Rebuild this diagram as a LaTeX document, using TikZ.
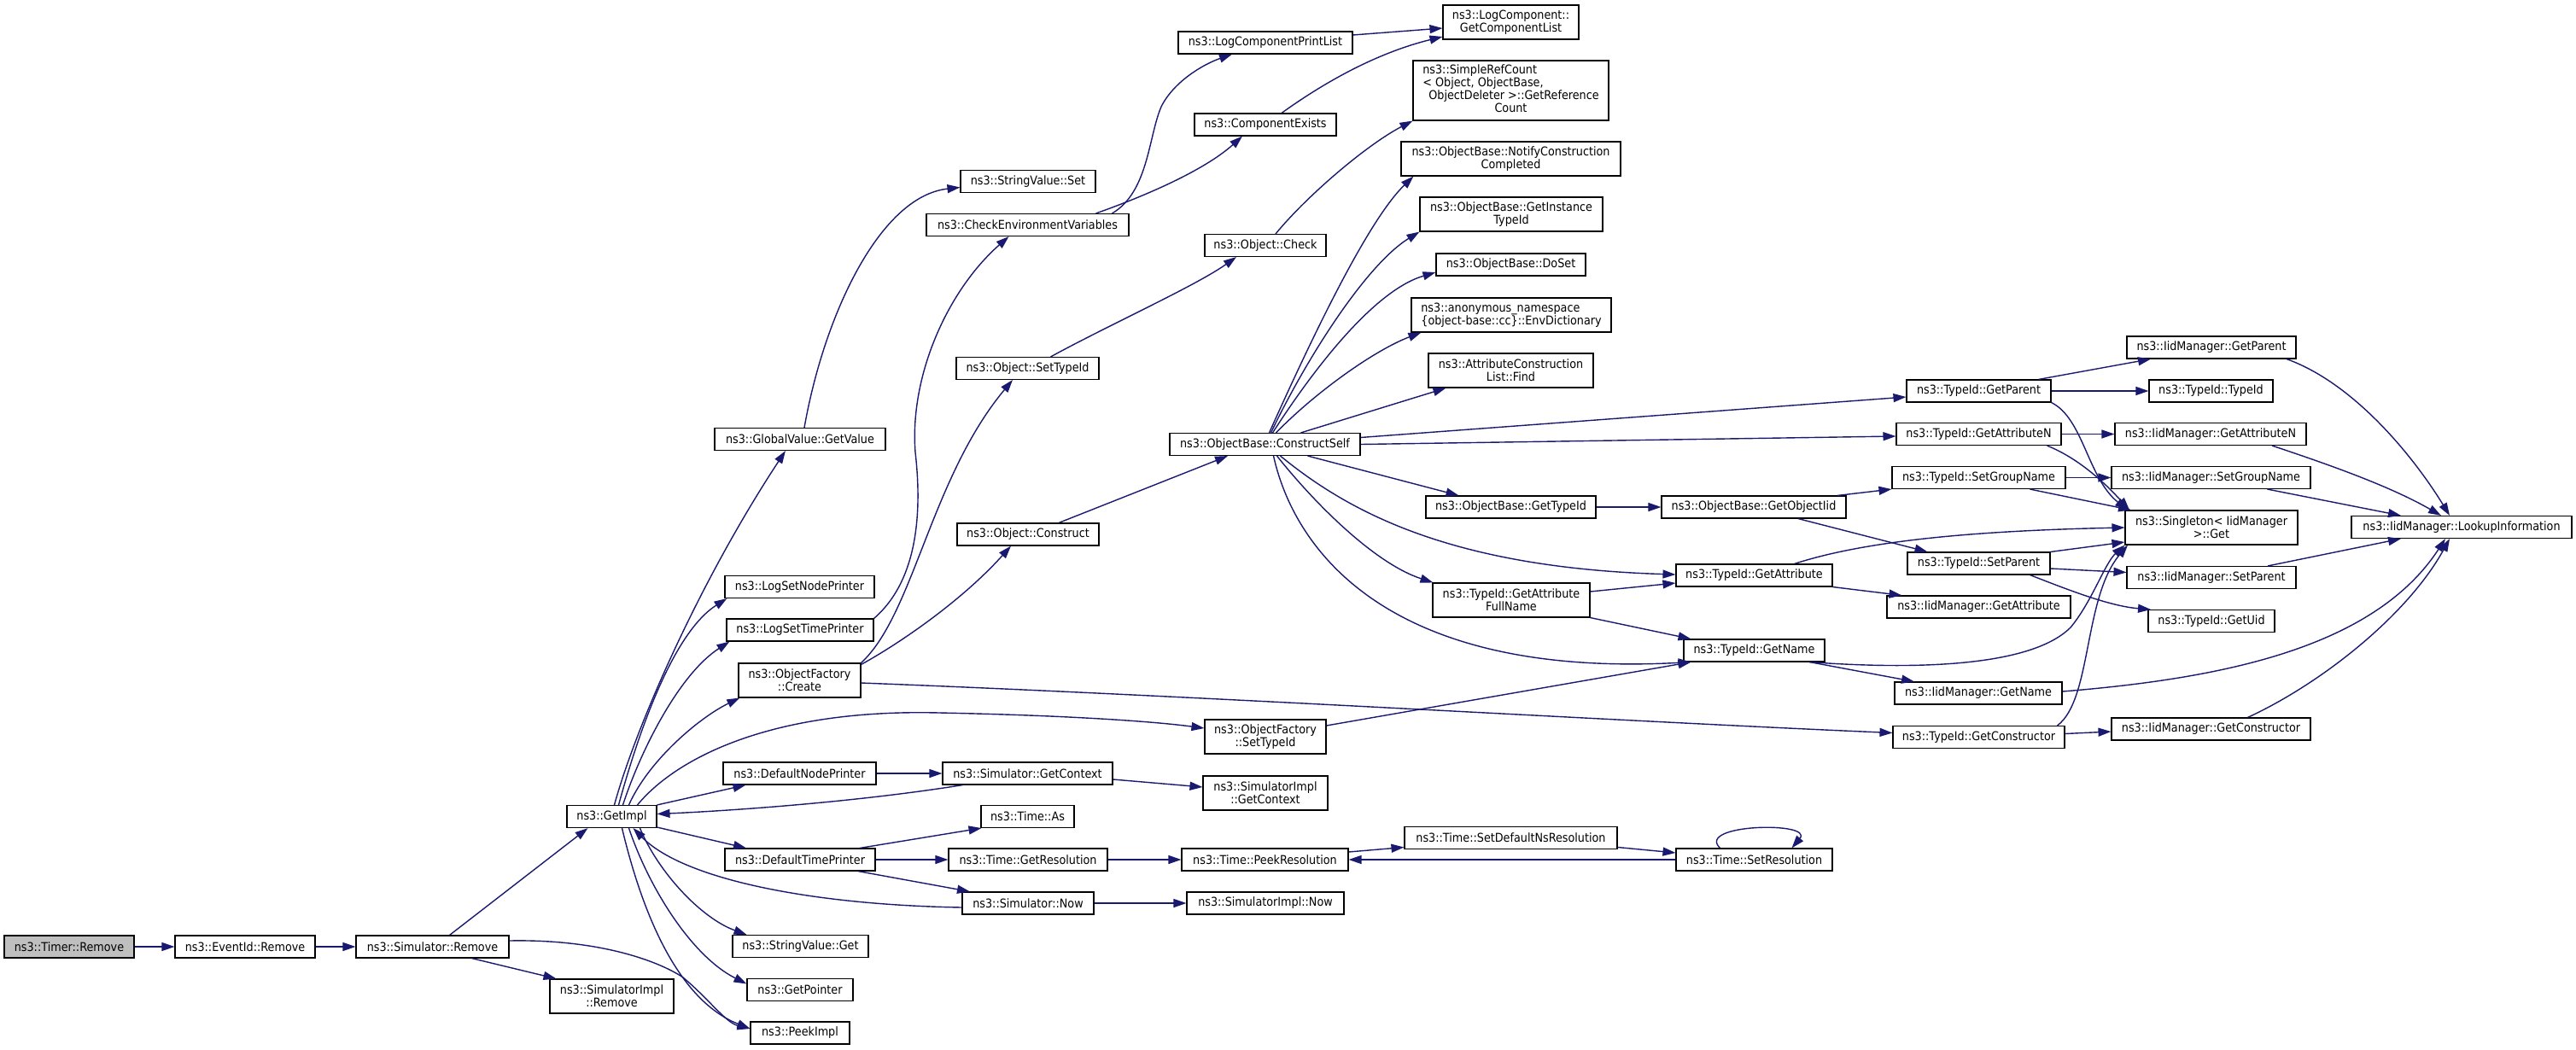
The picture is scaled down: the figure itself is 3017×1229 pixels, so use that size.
\documentclass[tikz,border=0pt]{standalone}
\usepackage{fontspec}
\setmainfont{DejaVu Sans}[FakeStretch=0.9]
\usetikzlibrary{arrows.meta}
\definecolor{dxblue}{HTML}{191970}
\definecolor{dxgrey}{HTML}{BFBFBF}
\newcommand\dxfont{\fontsize{14.2pt}{14.8pt}\selectfont}
\tikzset{
  box/.style={draw=black, line width=1.1pt, fill=white, inner sep=0pt, align=center, font=\dxfont, minimum height=26pt},
  ca/.style={draw=dxblue, line width=1.4pt, -{Triangle[length=15pt,width=10pt]}, fill=none},
}
\begin{document}
\begin{tikzpicture}[x=1pt,y=-1pt]
\useasboundingbox (0,0) rectangle (3017,1229);
% ---- nodes ----
\node[box, fill=dxgrey, minimum width=152pt] (timer) at (81,1109) {ns3::Timer::Remove};
\node[box, minimum width=164pt] (evrem) at (287,1109) {ns3::EventId::Remove};
\node[box, minimum width=179pt] (simrem) at (506.5,1109) {ns3::Simulator::Remove};
\node[box, minimum width=145pt, minimum height=40pt] (simimplrem) at (716.5,1167) {ns3::SimulatorImpl\\::Remove};
\node[box, minimum width=105pt] (getimpl) at (716.5,956.5) {ns3::GetImpl};
\node[box, minimum width=116pt] (peekimpl) at (937,1210) {ns3::PeekImpl};
\node[box, minimum width=124pt] (getpointer) at (937,1159.5) {ns3::GetPointer};
\node[box, minimum width=159pt] (svget) at (937.5,1108.5) {ns3::StringValue::Get};
\node[box, minimum width=176pt] (deftime) at (937,1007) {ns3::DefaultTimePrinter};
\node[box, minimum width=179pt] (defnode) at (936.5,906) {ns3::DefaultNodePrinter};
\node[box, minimum width=143pt, minimum height=40pt] (ofcreate) at (936.5,797) {ns3::ObjectFactory\\::Create};
\node[box, minimum width=172pt] (logtime) at (937,738) {ns3::LogSetTimePrinter};
\node[box, minimum width=175pt] (lognode) at (936.5,687.5) {ns3::LogSetNodePrinter};
\node[box, minimum width=200pt] (gvget) at (937,514.5) {ns3::GlobalValue::GetValue};
\node[box, minimum width=158pt] (svset) at (1204,212.5) {ns3::StringValue::Set};
\node[box, minimum width=237pt] (checkenv) at (1203.5,263.5) {ns3::CheckEnvironmentVariables};
\node[box, minimum width=167pt] (osettype) at (1203.5,431.5) {ns3::Object::SetTypeId};
\node[box, minimum width=166pt] (oconstruct) at (1204,626) {ns3::Object::Construct};
\node[box, minimum width=142pt, minimum height=40pt] (ofsettype) at (1482,863) {ns3::ObjectFactory\\::SetTypeId};
\node[box, minimum width=199pt] (simgetctx) at (1203.5,906) {ns3::Simulator::GetContext};
\node[box, minimum width=109pt] (timeas) at (1203.5,956.5) {ns3::Time::As};
\node[box, minimum width=186pt] (getres) at (1204,1007) {ns3::Time::GetResolution};
\node[box, minimum width=154pt] (simnow) at (1204,1058) {ns3::Simulator::Now};
\node[box, minimum width=146pt, minimum height=40pt] (simimplctx) at (1482,929) {ns3::SimulatorImpl\\::GetContext};
\node[box, minimum width=195pt] (peekres) at (1481.5,1007) {ns3::Time::PeekResolution};
\node[box, minimum width=184pt] (simimplnow) at (1482,1058) {ns3::SimulatorImpl::Now};
\node[box, minimum width=249pt] (setdefns) at (1769.5,981.5) {ns3::Time::SetDefaultNsResolution};
\node[box, minimum width=183pt] (setres) at (2054.5,1007) {ns3::Time::SetResolution};
\node[box, minimum width=204pt] (logprint) at (1482,50) {ns3::LogComponentPrintList};
\node[box, minimum width=166pt] (compexists) at (1482,146) {ns3::ComponentExists};
\node[box, minimum width=142pt] (ocheck) at (1482,287.5) {ns3::Object::Check};
\node[box, minimum width=223pt] (constructself) at (1481.5,520.5) {ns3::ObjectBase::ConstructSelf};
\node[box, minimum width=159pt, minimum height=40pt] (getcomplist) at (1769.5,26) {ns3::LogComponent::\\GetComponentList};
\node[box, minimum width=229pt, minimum height=70pt] (simpleref) at (1769.5,106) {\begin{tabular}{@{}l@{}}ns3::SimpleRefCount\\< Object, ObjectBase,\\\hspace{7pt}ObjectDeleter >::GetReference\\\multicolumn{1}{@{}c@{}}{Count}\end{tabular}};
\node[box, minimum width=257pt, minimum height=40pt] (notify) at (1769.5,186) {ns3::ObjectBase::NotifyConstruction\\Completed};
\node[box, minimum width=214pt, minimum height=40pt] (getinst) at (1770,251) {ns3::ObjectBase::GetInstance\\TypeId};
\node[box, minimum width=175pt] (doset) at (1769.5,310) {ns3::ObjectBase::DoSet};
\node[box, align=left, minimum width=234pt, minimum height=40pt] (envdict) at (1770,369) {ns3::anonymous\_namespace\\\{object-base::cc\}::EnvDictionary};
\node[box, minimum width=193pt, minimum height=40pt] (acfind) at (1769.5,434) {ns3::AttributeConstruction\\List::Find};
\node[box, minimum width=199pt] (obgettype) at (1769.5,594) {ns3::ObjectBase::GetTypeId};
\node[box, minimum width=184pt, minimum height=40pt] (getattrfull) at (1770,703) {ns3::TypeId::GetAttribute\\FullName};
\node[box, minimum width=216pt] (getobjiid) at (2054,594) {ns3::ObjectBase::GetObjectIid};
\node[box, minimum width=183pt] (tgetattr) at (2054.5,674) {ns3::TypeId::GetAttribute};
\node[box, minimum width=165pt] (tgetname) at (2054.5,762) {ns3::TypeId::GetName};
\node[box, minimum width=169pt] (tgetparent) at (2317.5,458) {ns3::TypeId::GetParent};
\node[box, minimum width=193pt] (tgetattrn) at (2317.5,508.5) {ns3::TypeId::GetAttributeN};
\node[box, minimum width=203pt] (tsetgroup) at (2317.5,559.5) {ns3::TypeId::SetGroupName};
\node[box, minimum width=167pt] (tsetparent) at (2317.5,660) {ns3::TypeId::SetParent};
\node[box, minimum width=215pt] (igetattr) at (2317.5,711) {ns3::IidManager::GetAttribute};
\node[box, minimum width=196pt] (igetname) at (2317,812) {ns3::IidManager::GetName};
\node[box, minimum width=201pt] (tgetctor) at (2317.5,863.5) {ns3::TypeId::GetConstructor};
\node[box, minimum width=198pt] (igetparent) at (2590,407) {ns3::IidManager::GetParent};
\node[box, minimum width=145pt] (ttypeid) at (2589.5,458) {ns3::TypeId::TypeId};
\node[box, minimum width=224pt] (igetattrn) at (2589,508.5) {ns3::IidManager::GetAttributeN};
\node[box, minimum width=233pt] (isetgroup) at (2589.5,559.5) {ns3::IidManager::SetGroupName};
\node[box, minimum width=202pt, minimum height=40pt] (singleton) at (2590,618) {ns3::Singleton< IidManager\\ >::Get};
\node[box, minimum width=198pt] (isetparent) at (2590,676.5) {ns3::IidManager::SetParent};
\node[box, minimum width=148pt] (tgetuid) at (2590,727.5) {ns3::TypeId::GetUid};
\node[box, minimum width=233pt] (igetctor) at (2589.5,854) {ns3::IidManager::GetConstructor};
\node[box, minimum width=258pt] (lookup) at (2883,617.5) {ns3::IidManager::LookupInformation};
% ---- edges ----
\draw[ca] (timer) -- (evrem);
\draw[ca] (evrem) -- (simrem);
\draw[ca] ([xshift=20pt]simrem.north) -- ([xshift=-28pt]getimpl.south);
\draw[ca] ([xshift=46pt]simrem.south) -- ([xshift=-65pt]simimplrem.north);
\draw[ca] ([yshift=7pt]simrem.east) .. controls (700,1100) and (770,1125) .. (800,1145) .. controls (830,1170) and (850,1198) .. ([yshift=5pt]peekimpl.west);
% GetImpl fan
\draw[ca] ([xshift=3pt]getimpl.north) .. controls (745,850) and (820,680) .. ([xshift=-17pt]gvget.south);
\draw[ca] ([xshift=8pt]getimpl.north) .. controls (750,850) and (790,740) .. ([xshift=3pt]lognode.south west);
\draw[ca] ([xshift=13pt]getimpl.north) .. controls (750,880) and (795,790) .. ([xshift=4pt]logtime.south west);
\draw[ca] ([xshift=20pt]getimpl.north) .. controls (760,890) and (820,840) .. ([xshift=2pt]ofcreate.south west);
\draw[ca] ([xshift=30pt]getimpl.north) .. controls (790,890) and (900,830) .. (1100,835) .. controls (1250,838) and (1350,845) .. ([yshift=10pt]ofsettype.west);
\draw[ca] (getimpl.north east) -- ([xshift=-63pt]defnode.south);
\draw[ca] ([xshift=-76pt]simgetctx.south) .. controls (1000,940) and (850,950) .. ([yshift=3pt]getimpl.east);
\draw[ca] ([yshift=1pt]getimpl.south east) -- ([xshift=-63pt]deftime.north);
\draw[ca] ([xshift=33pt]getimpl.south) .. controls (770,1020) and (820,1075) .. ([xshift=-63pt]svget.north);
\draw[ca] ([xshift=20pt]getimpl.south) .. controls (760,1040) and (810,1120) .. ([yshift=7pt]getpointer.west);
\draw[ca] ([xshift=12pt]getimpl.south) .. controls (750,1060) and (790,1170) .. ([yshift=5pt]peekimpl.west);
\draw[ca] ([yshift=-5pt]simnow.west) .. controls (950,1060) and (800,1030) .. ([xshift=25pt]getimpl.south);
% printers / time
\draw[ca] (defnode) -- (simgetctx);
\draw[ca] ([yshift=-7pt]simgetctx.east) -- ([yshift=7pt]simimplctx.west);
\draw[ca] ([xshift=70pt]deftime.north) -- ([xshift=-54pt]timeas.south);
\draw[ca] (deftime) -- (getres);
\draw[ca] ([xshift=68pt]deftime.south) -- ([xshift=-68pt]simnow.north);
\draw[ca] (getres) -- (peekres);
\draw[ca] (simnow) -- (simimplnow);
\draw[ca] ([yshift=9pt]peekres.east) -- ([yshift=-11pt]setdefns.west);
\draw[ca] ([yshift=-11pt]setdefns.east) -- ([yshift=8pt]setres.west);
\draw[ca] (setres) -- (peekres);
\draw[ca] ([xshift=-40pt]setres.north) .. controls (1985,965) and (2125,962) .. ([xshift=44pt]setres.north);
% global value / log
\draw[ca] ([xshift=5pt]gvget.north) .. controls (965,370) and (1030,230) .. ([yshift=-7pt]svset.west);
\draw[ca] (logtime.north east) .. controls (1075,680) and (1080,600) .. (1072,530) .. controls (1065,440) and (1110,340) .. ([xshift=-22pt]checkenv.south);
\draw[ca] ([xshift=99pt]checkenv.north) .. controls (1345,225) and (1345,160) .. (1360,125) .. controls (1375,95) and (1410,75) .. ([xshift=-39pt]logprint.south);
\draw[ca] ([xshift=80pt]checkenv.north) .. controls (1340,230) and (1410,200) .. ([xshift=-27pt]compexists.south);
\draw[ca] ([yshift=9pt]logprint.east) -- ([yshift=-7pt]getcomplist.west);
\draw[ca] ([xshift=19pt]compexists.north) .. controls (1560,90) and (1620,60) .. ([yshift=-17pt]getcomplist.west);
% object factory
\draw[ca] (ofcreate.north east) .. controls (1070,720) and (1090,560) .. ([xshift=-17.5pt]osettype.south);
\draw[ca] ([yshift=-2pt]ofcreate.north east) .. controls (1060,750) and (1130,700) .. ([xshift=-20pt]oconstruct.south);
\draw[ca] ([yshift=-3pt]ofcreate.east) .. controls (1400,815) and (1900,845) .. ([yshift=5pt]tgetctor.west);
\draw[ca] ([xshift=27pt]osettype.north) .. controls (1300,380) and (1400,335) .. ([xshift=-34pt]ocheck.south);
\draw[ca] ([xshift=12pt]ocheck.north) .. controls (1530,230) and (1600,170) .. (simpleref.south west);
\draw[ca] ([xshift=36pt]oconstruct.north) -- ([xshift=-43.5pt]constructself.south);
% ConstructSelf fan
\draw[ca] ([xshift=5pt]constructself.north) .. controls (1530,410) and (1600,260) .. ([xshift=15pt]notify.south west);
\draw[ca] ([xshift=7pt]constructself.north) .. controls (1530,420) and (1600,310) .. (getinst.south west);
\draw[ca] ([xshift=9pt]constructself.north) .. controls (1540,430) and (1610,340) .. ([yshift=-9pt]doset.west);
\draw[ca] ([xshift=13pt]constructself.north) .. controls (1540,460) and (1610,410) .. ([xshift=12pt]envdict.south west);
\draw[ca] ([xshift=42pt]constructself.north) -- ([xshift=21pt]acfind.south west);
\draw[ca] ([yshift=8pt]constructself.east) -- ([yshift=-7pt]tgetparent.west);
\draw[ca] (constructself.east) -- ([yshift=-2.5pt]tgetattrn.west);
\draw[ca] ([xshift=50pt]constructself.south) -- ([xshift=-61pt]obgettype.north);
\draw[ca] ([xshift=18pt]constructself.south) .. controls (1580,600) and (1700,665) .. ([yshift=1pt]tgetattr.west);
\draw[ca] ([xshift=14pt]constructself.south) .. controls (1540,590) and (1610,660) .. ([xshift=1pt]getattrfull.north west);
\draw[ca] ([xshift=10pt]constructself.south) .. controls (1515,640) and (1620,795) .. ([xshift=-74pt]tgetname.south);
% TypeId column
\draw[ca] ([yshift=10pt]getattrfull.east) -- ([yshift=-9pt]tgetattr.west);
\draw[ca] (getattrfull.south east) -- ([xshift=-74pt]tgetname.north);
\draw[ca] ([yshift=13pt]ofsettype.east) -- ([xshift=-74pt]tgetname.south);
\draw[ca] (obgettype) -- (getobjiid);
\draw[ca] ([xshift=98pt]getobjiid.north) -- (tsetgroup.south west);
\draw[ca] ([xshift=52pt]getobjiid.south) -- ([xshift=-60pt]tsetparent.north);
\draw[ca] (tgetattr.south east) -- ([xshift=-90pt]igetattr.north);
\draw[ca] ([xshift=47pt]tgetattr.north) .. controls (2180,635) and (2300,622) .. (singleton.west);
\draw[ca] ([xshift=70pt]tgetparent.north) -- ([xshift=-71pt]igetparent.south);
\draw[ca] (tgetparent) -- (ttypeid);
\draw[ca] (tgetparent.south east) .. controls (2440,490) and (2445,560) .. ([xshift=-98pt]singleton.north);
\draw[ca] (tgetattrn) -- (igetattrn);
\draw[ca] ([xshift=80pt]tgetattrn.south) .. controls (2430,535) and (2460,560) .. ([xshift=-96pt]singleton.north);
\draw[ca] (tsetgroup) -- (isetgroup);
\draw[ca] ([xshift=60pt]tsetgroup.south) -- ([xshift=-94pt]singleton.north);
\draw[ca] (tsetparent.north east) -- ([yshift=-17pt]singleton.west);
\draw[ca] ([yshift=-6pt]tsetparent.east) -- ([yshift=6pt]isetparent.west);
\draw[ca] ([xshift=60pt]tsetparent.south) .. controls (2420,690) and (2470,710) .. ([xshift=-71pt]tgetuid.north);
\draw[ca] ([xshift=65pt]tgetname.south) -- ([xshift=-75pt]igetname.north);
\draw[ca] ([xshift=65pt]tgetname.south) .. controls (2250,785) and (2380,780) .. (2425,735) .. controls (2450,705) and (2465,660) .. (singleton.south west);
\draw[ca] ([yshift=4pt]tgetctor.east) -- ([yshift=-3pt]igetctor.west);
\draw[ca] ([xshift=92pt]tgetctor.north) .. controls (2450,820) and (2440,700) .. ([xshift=-98pt]singleton.south);
% IidManager -> LookupInformation
\draw[ca] ([xshift=88pt]igetparent.south) .. controls (2760,450) and (2830,540) .. ([xshift=-14pt]lookup.north);
\draw[ca] ([xshift=72pt]igetattrn.south) .. controls (2730,545) and (2800,570) .. ([xshift=-24pt]lookup.north);
\draw[ca] ([xshift=66pt]isetgroup.south) -- ([xshift=-71pt]lookup.north);
\draw[ca] ([xshift=66pt]isetparent.north) -- ([xshift=-71pt]lookup.south);
\draw[ca] ([yshift=2pt]igetname.east) .. controls (2600,795) and (2780,760) .. ([xshift=-19pt]lookup.south);
\draw[ca] ([xshift=43pt]igetctor.north) .. controls (2720,800) and (2820,720) .. ([xshift=-14pt]lookup.south);
\end{tikzpicture}
\end{document}
